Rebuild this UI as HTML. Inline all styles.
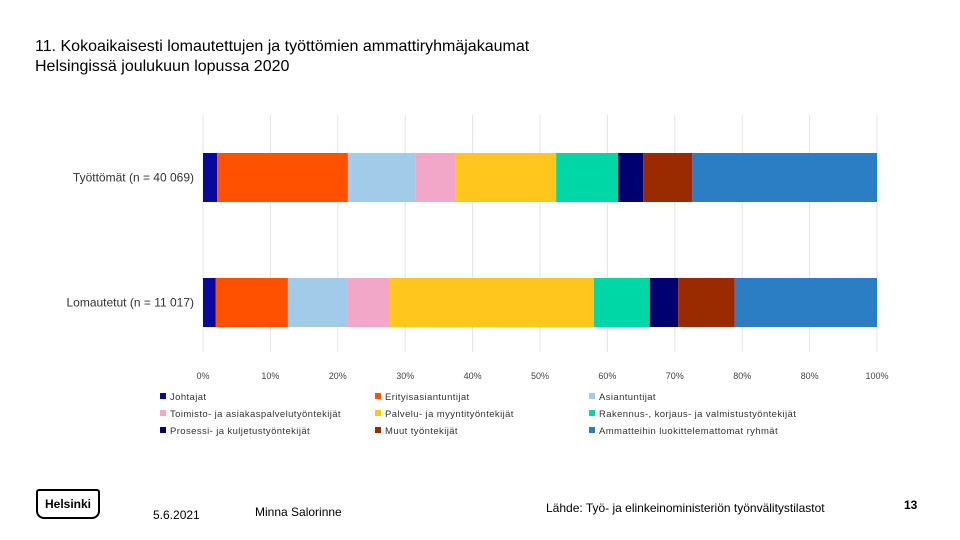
<!DOCTYPE html>
<html><head><meta charset="utf-8">
<style>
body{margin:0;width:960px;height:540px;background:#fff;font-family:"Liberation Sans",sans-serif;position:relative;overflow:hidden}
.t{position:absolute;left:35px;top:37px;font-size:16px;line-height:20px;color:#000}
.f{position:absolute;font-size:12px;color:#000}
</style></head><body>
<div class="t">11. Kokoaikaisesti lomautettujen ja työttömien ammattiryhmäjakaumat<br>Helsingissä joulukuun lopussa 2020</div>
<svg id="c" width="960" height="540" style="position:absolute;left:0;top:0"></svg>
<div style="position:absolute;left:36px;top:489px;width:60px;height:26px;border:2px solid #000;border-radius:3px 3px 8px 8px;font-weight:bold;font-size:12px;text-align:center;line-height:26px">Helsinki</div>
<div class="f" style="left:153px;top:508px">5.6.2021</div>
<div class="f" style="left:255px;top:505px">Minna Salorinne</div>
<div class="f" style="left:546px;top:501px;font-size:12px">Lähde: Työ- ja elinkeinoministeriön työnvälitystilastot</div>
<div class="f" style="left:904px;top:498px;font-weight:bold">13</div>
<script>
const categories=["Työttömät (n = 40 069)","Lomautetut  (n = 11 017)"];
const groups=["Johtajat","Erityisasiantuntijat","Asiantuntijat","Toimisto- ja asiakaspalvelutyöntekijät","Palvelu- ja myyntityöntekijät","Rakennus-, korjaus- ja valmistustyöntekijät","Prosessi- ja kuljetustyöntekijät","Muut työntekijät","Ammatteihin luokittelemattomat ryhmät"];
const tyottomat=[2.1,19.4,10.0,5.9,15.0,9.2,3.7,7.3,27.4];
const lomautetut=[1.9,10.7,8.9,6.1,30.4,8.3,4.2,8.4,21.1];
const ticks=[0,10,20,30,40,50,60,70,80,90,100];
const tickLabels=["0%","10%","20%","30%","40%","50%","60%","70%","80%","80%","100%"];
const colors=["#0a0a9a","#ff5100","#a2cbea","#f2a6c8","#ffc61e","#00d7a6","#000070","#9a2b00","#2b7ec4"];
const svg=document.getElementById('c');const NS="http://www.w3.org/2000/svg";
function x(v){return 203+v*6.74;}
const barY=[153,278],barH=49;
function mk(t,a,p){const e=document.createElementNS(NS,t);for(const k in a)e.setAttribute(k,a[k]);(p||svg).appendChild(e);return e;}
ticks.forEach((t,i)=>{
 const g=mk('line',{x1:x(t),x2:x(t),y1:115,y2:352,stroke:'#e4e4e4'});
 
 
 const l=mk('text',{x:x(t),y:379,'font-size':9,'text-anchor':'middle',fill:'#444','font-family':'Liberation Sans'});
 l.textContent=tickLabels[i];
 
 
});
[tyottomat,lomautetut].forEach((s,r)=>{
 let acc=0;
 s.forEach((v,i)=>{
  const b=mk('rect',{x:x(acc),y:barY[r],width:x(acc+v)-x(acc),height:barH,fill:colors[i]});
  
  
  acc+=v;
 });
 const l=mk('text',{x:194,y:barY[r]+barH/2+4,'font-size':12,'text-anchor':'end',fill:'#333','font-family':'Liberation Sans'});
 l.textContent=categories[r];
 
 
});
groups.forEach((g,i)=>{
 const cx=[160,375,589][i%3],cy=397+Math.floor(i/3)*17;
 const m=mk('rect',{x:cx,y:cy-4,width:6,height:6,fill:colors[i]});
 
 
 const t=mk('text',{x:cx+10,y:cy+3,'font-size':9.5,fill:'#333','font-family':'Liberation Sans','letter-spacing':'0.4'});
 t.textContent=g;
 
 
});
</script>
</body></html>
